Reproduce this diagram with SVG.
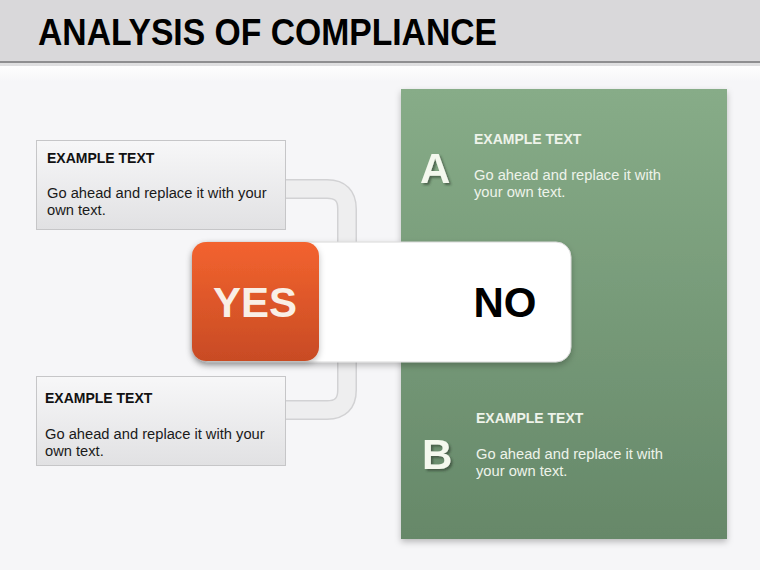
<svg xmlns="http://www.w3.org/2000/svg" width="760" height="570" viewBox="0 0 760 570">
  <defs>
    <linearGradient id="gGreen" x1="0" y1="0" x2="0" y2="1">
      <stop offset="0" stop-color="#87ac88"/>
      <stop offset="1" stop-color="#668869"/>
    </linearGradient>
    <linearGradient id="gBox" x1="0" y1="0" x2="0" y2="1">
      <stop offset="0" stop-color="#f7f7f8"/>
      <stop offset="1" stop-color="#e1e1e3"/>
    </linearGradient>
    <linearGradient id="gOrange" x1="0" y1="0" x2="0" y2="1">
      <stop offset="0" stop-color="#f3632f"/>
      <stop offset="1" stop-color="#c84b24"/>
    </linearGradient>
    <linearGradient id="gTopFade" x1="0" y1="0" x2="0" y2="1">
      <stop offset="0" stop-color="#ffffff"/>
      <stop offset="1" stop-color="#f6f6f8"/>
    </linearGradient>
    <filter id="shadow" x="-10%" y="-10%" width="120%" height="125%">
      <feDropShadow dx="0" dy="3" stdDeviation="3" flood-color="#000" flood-opacity="0.25"/>
    </filter>
    <filter id="letterShadow" x="-20%" y="-20%" width="150%" height="150%">
      <feDropShadow dx="2" dy="2" stdDeviation="1" flood-color="#2c3e2c" flood-opacity="0.6"/>
    </filter>
  </defs>
  <style>
    .title { font-family: "Liberation Sans", Arial, sans-serif; font-weight: bold; font-size: 36px; fill: #000; }
    .head { font-family: "Liberation Sans", Arial, sans-serif; font-weight: bold; font-size: 14px; fill: #111; }
    .body { font-family: "Liberation Sans", Arial, sans-serif; font-size: 14.7px; fill: #1a1a1a; }
    .ghead { font-family: "Liberation Sans", Arial, sans-serif; font-weight: bold; font-size: 14px; fill: #eef3ea; }
    .gbody { font-family: "Liberation Sans", Arial, sans-serif; font-size: 14.7px; fill: #eef3ea; }
    .letter { font-family: "Liberation Sans", Arial, sans-serif; font-weight: bold; font-size: 42px; fill: #f4f8ee; }
    .big { font-family: "Liberation Sans", Arial, sans-serif; font-weight: bold; font-size: 42px; }
    .box { fill: url(#gBox); stroke: #c6c6c8; stroke-width: 1; }
    .pipeOut { fill: none; stroke: #d2d2d4; stroke-width: 20; }
    .pipeIn { fill: none; stroke: #eeeeef; stroke-width: 17; }
  </style>

  <!-- background -->
  <rect x="0" y="0" width="760" height="570" fill="#f6f6f8"/>
  <rect x="0" y="62" width="760" height="20" fill="url(#gTopFade)"/>

  <!-- header -->
  <g id="header">
    <rect x="0" y="0" width="760" height="62" fill="#d9d8da"/>
    <rect x="0" y="61" width="760" height="2" fill="#8e8e90"/>
    <rect x="0" y="63" width="760" height="3" fill="#c9c9cb" opacity="0.6"/>
    <text class="title" x="38" y="45" textLength="459" lengthAdjust="spacingAndGlyphs">ANALYSIS OF COMPLIANCE</text>
  </g>

  <!-- green panel -->
  <g id="panel">
    <rect x="401" y="89" width="326" height="450" fill="url(#gGreen)" filter="url(#shadow)"/>
  </g>

  <!-- connectors -->
  <g id="connectors">
    <path class="pipeOut" d="M 280 189 L 327 189 Q 347 189 347 209 L 347 250"/>
    <path class="pipeIn" d="M 280 189 L 327 189 Q 347 189 347 209 L 347 250"/>
    <path class="pipeOut" d="M 347 355 L 347 390 Q 347 410 327 410 L 280 410"/>
    <path class="pipeIn" d="M 347 355 L 347 390 Q 347 410 327 410 L 280 410"/>
  </g>

  <!-- left boxes -->
  <g id="boxTop">
    <rect class="box" x="36.5" y="140.5" width="249" height="89"/>
    <text class="head" x="47" y="163">EXAMPLE TEXT</text>
    <text class="body" x="47" y="198">Go ahead and replace it with your</text>
    <text class="body" x="47" y="215">own text.</text>
  </g>
  <g id="boxBottom">
    <rect class="box" x="36.5" y="376.5" width="249" height="89"/>
    <text class="head" x="45" y="403">EXAMPLE TEXT</text>
    <text class="body" x="45" y="439">Go ahead and replace it with your</text>
    <text class="body" x="45" y="456">own text.</text>
  </g>

  <!-- YES / NO bar -->
  <g id="noBar">
    <rect x="193" y="242" width="378" height="120" rx="15" ry="15" fill="#ffffff" stroke="#d8d8d8" stroke-width="1" filter="url(#shadow)"/>
    <text class="big" x="505" y="317" text-anchor="middle" fill="#000">NO</text>
  </g>
  <g id="yesBox">
    <rect x="192" y="242" width="127" height="119" rx="14" ry="14" fill="url(#gOrange)" filter="url(#shadow)"/>
    <text class="big" x="255" y="317" text-anchor="middle" fill="#f9efe6">YES</text>
  </g>

  <!-- green panel sections -->
  <g id="sectionA">
    <text class="letter" x="420" y="183" filter="url(#letterShadow)">A</text>
    <text class="ghead" x="474" y="144">EXAMPLE TEXT</text>
    <text class="gbody" x="474" y="180">Go ahead and replace it with</text>
    <text class="gbody" x="474" y="197">your own text.</text>
  </g>
  <g id="sectionB">
    <text class="letter" x="422" y="469" filter="url(#letterShadow)">B</text>
    <text class="ghead" x="476" y="423">EXAMPLE TEXT</text>
    <text class="gbody" x="476" y="459">Go ahead and replace it with</text>
    <text class="gbody" x="476" y="476">your own text.</text>
  </g>
</svg>
